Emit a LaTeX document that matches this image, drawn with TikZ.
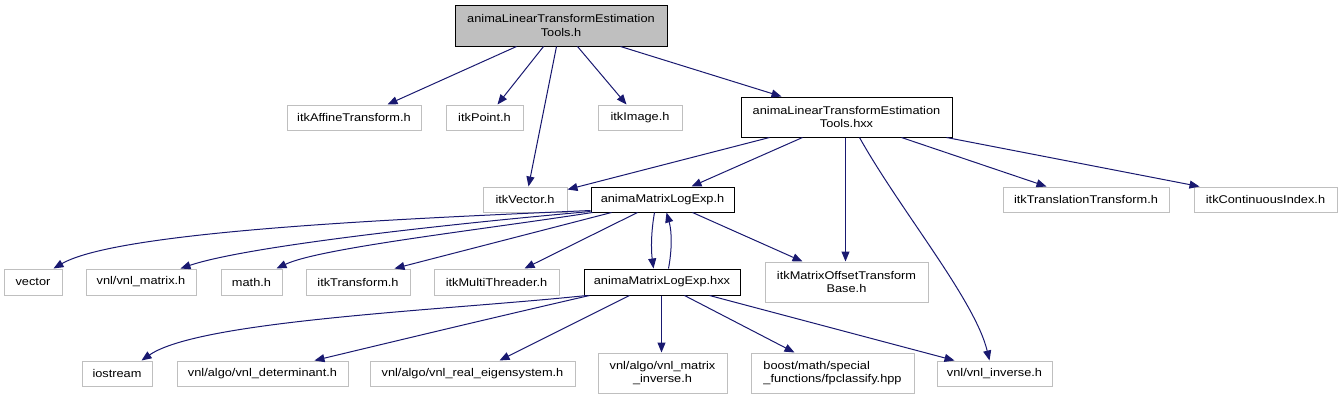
\documentclass[tikz,border=0pt]{standalone}
\usepackage{fontspec}
\setmainfont{Liberation Sans}[FakeStretch=1.14]
\usetikzlibrary{arrows.meta}
\definecolor{edgeblue}{HTML}{191970}
\definecolor{boxgray}{HTML}{BFBFBF}
\tikzset{
  base/.style={draw, line width=1pt, inner sep=0pt, align=center,
    font=\fontsize{11.2}{13.5}\selectfont, anchor=center},
  docbox/.style={base, draw=black, fill=white},
  topbox/.style={base, draw=black, fill=boxgray},
  extbox/.style={base, draw=boxgray, fill=white},
  edge/.style={draw=edgeblue, line width=1pt,
    -{Triangle[length=10pt,width=8pt]}, edgeblue},
}
\newcommand{\bx}[7]{% style, name, x1, x2, y1, y2, text
  \node[#1, minimum width={#4-#3}, minimum height={#6-#5}] (#2) at ({(#3+#4)/2},{(#5+#6)/2}) {#7};}
\begin{document}
\begin{tikzpicture}[x=1pt,y=-1pt]
\useasboundingbox (0,0) rectangle (1341,400);
% row 0
\bx{topbox}{top}{455}{667}{5}{46}{animaLinearTransformEstimation\\Tools.h}
% row 1
\bx{extbox}{aff}{287}{421}{105}{130}{itkAffineTransform.h}
\bx{extbox}{point}{446}{523}{105}{130}{itkPoint.h}
\bx{extbox}{image}{598}{682}{105}{130}{itkImage.h}
\bx{docbox}{hxx}{741}{952}{97}{137}{animaLinearTransformEstimation\\Tools.hxx}
% row 2
\bx{extbox}{vec}{483}{567}{187}{212}{itkVector.h}
\bx{docbox}{mleh}{591}{734}{187}{212}{animaMatrixLogExp.h}
\bx{extbox}{trans}{1003}{1169}{187}{212}{itkTranslationTransform.h}
\bx{extbox}{cont}{1194}{1337}{187}{212}{itkContinuousIndex.h}
% row 3
\bx{extbox}{vector}{4}{62}{269}{295}{vector}
\bx{extbox}{vnlm}{86}{196}{269}{295}{vnl/vnl\_matrix.h}
\bx{extbox}{math}{221}{282}{269}{295}{math.h}
\bx{extbox}{itkT}{306}{410}{269}{295}{itkTransform.h}
\bx{extbox}{multi}{434}{559}{269}{295}{itkMultiThreader.h}
\bx{docbox}{mlehxx}{584}{740}{269}{295}{animaMatrixLogExp.hxx}
\bx{extbox}{mot}{765}{928}{262}{302}{itkMatrixOffsetTransform\\Base.h}
% row 4
\bx{extbox}{ios}{82}{152}{361}{386}{iostream}
\bx{extbox}{det}{177}{348}{361}{386}{vnl/algo/vnl\_determinant.h}
\bx{extbox}{eig}{370}{575}{361}{386}{vnl/algo/vnl\_real\_eigensystem.h}
\bx{extbox}{minv}{598}{727}{353}{393}{vnl/algo/vnl\_matrix\\\_inverse.h}
\node[extbox, align=left, minimum width=163, minimum height=40] (boost) at (832.5,373) {boost/math/special\\\_functions/fpclassify.hpp};
\bx{extbox}{vinv}{937}{1052}{361}{386}{vnl/vnl\_inverse.h}
% edges from top
\draw[edge] ([xshift=62pt]top.south west) -- ([xshift=101pt]aff.north west);
\draw[edge] ([xshift=89pt]top.south west) -- ([xshift=52pt]point.north west);
\draw[edge] ([xshift=102pt]top.south west) -- ([xshift=46pt]vec.north west);
\draw[edge] ([xshift=123pt]top.south west) -- ([xshift=29pt]image.north west);
\draw[edge] ([xshift=166pt]top.south west) -- ([xshift=41pt]hxx.north west);
% edges from hxx
\draw[edge] ([xshift=29pt]hxx.south west) -- ([yshift=-3pt]vec.north east);
\draw[edge] ([xshift=62pt]hxx.south west) -- ([xshift=101pt]mleh.north west);
\draw[edge] ([xshift=105pt]hxx.south west) -- ([xshift=81pt]mot.north west);
\draw[edge] ([xshift=119pt]hxx.south west) .. controls (900,210) and (975,300) .. ([xshift=53pt]vinv.north west);
\draw[edge] ([xshift=161pt]hxx.south west) -- ([xshift=44pt]trans.north west);
\draw[edge] ([xshift=206pt]hxx.south west) -- ([xshift=6pt]cont.north west);
% edges from mleh
\draw[edge] ([yshift=2pt]mleh.south west) .. controls (420,218) and (120,230) .. ([xshift=50pt]vector.north west);
\draw[edge] ([yshift=1pt]mleh.south west) .. controls (470,222) and (250,245) .. ([xshift=95pt]vnlm.north west);
\draw[edge] ([xshift=2pt]mleh.south west) .. controls (480,230) and (320,248) .. ([xshift=56pt]math.north west);
\draw[edge] ([xshift=21pt]mleh.south west) -- ([xshift=89pt]itkT.north west);
\draw[edge] ([xshift=47pt]mleh.south west) -- ([xshift=91pt]multi.north west);
\draw[edge] ([xshift=64pt]mleh.south west) .. controls (651,232) and (651,250) .. ([xshift=70pt]mlehxx.north west);
\draw[edge] ([xshift=85pt]mlehxx.north west) .. controls (672,250) and (672,232) .. ([xshift=76pt]mleh.south west);
\draw[edge] ([xshift=102pt]mleh.south west) -- ([xshift=38pt]mot.north west);
% edges from mlehxx
\draw[edge] ([xshift=3pt]mlehxx.south west) .. controls (450,310) and (200,320) .. ([xshift=60pt]ios.north west);
\draw[edge] ([xshift=6pt]mlehxx.south west) .. controls (500,316) and (400,340) .. ([xshift=138pt]det.north west);
\draw[edge] ([xshift=46pt]mlehxx.south west) -- ([xshift=130pt]eig.north west);
\draw[edge] ([xshift=78pt]mlehxx.south west) -- ([xshift=64pt]minv.north west);
\draw[edge] ([xshift=101pt]mlehxx.south west) -- ([xshift=44pt]boost.north west);
\draw[edge] ([xshift=126pt]mlehxx.south west) -- ([xshift=18pt]vinv.north west);
\end{tikzpicture}
\end{document}
